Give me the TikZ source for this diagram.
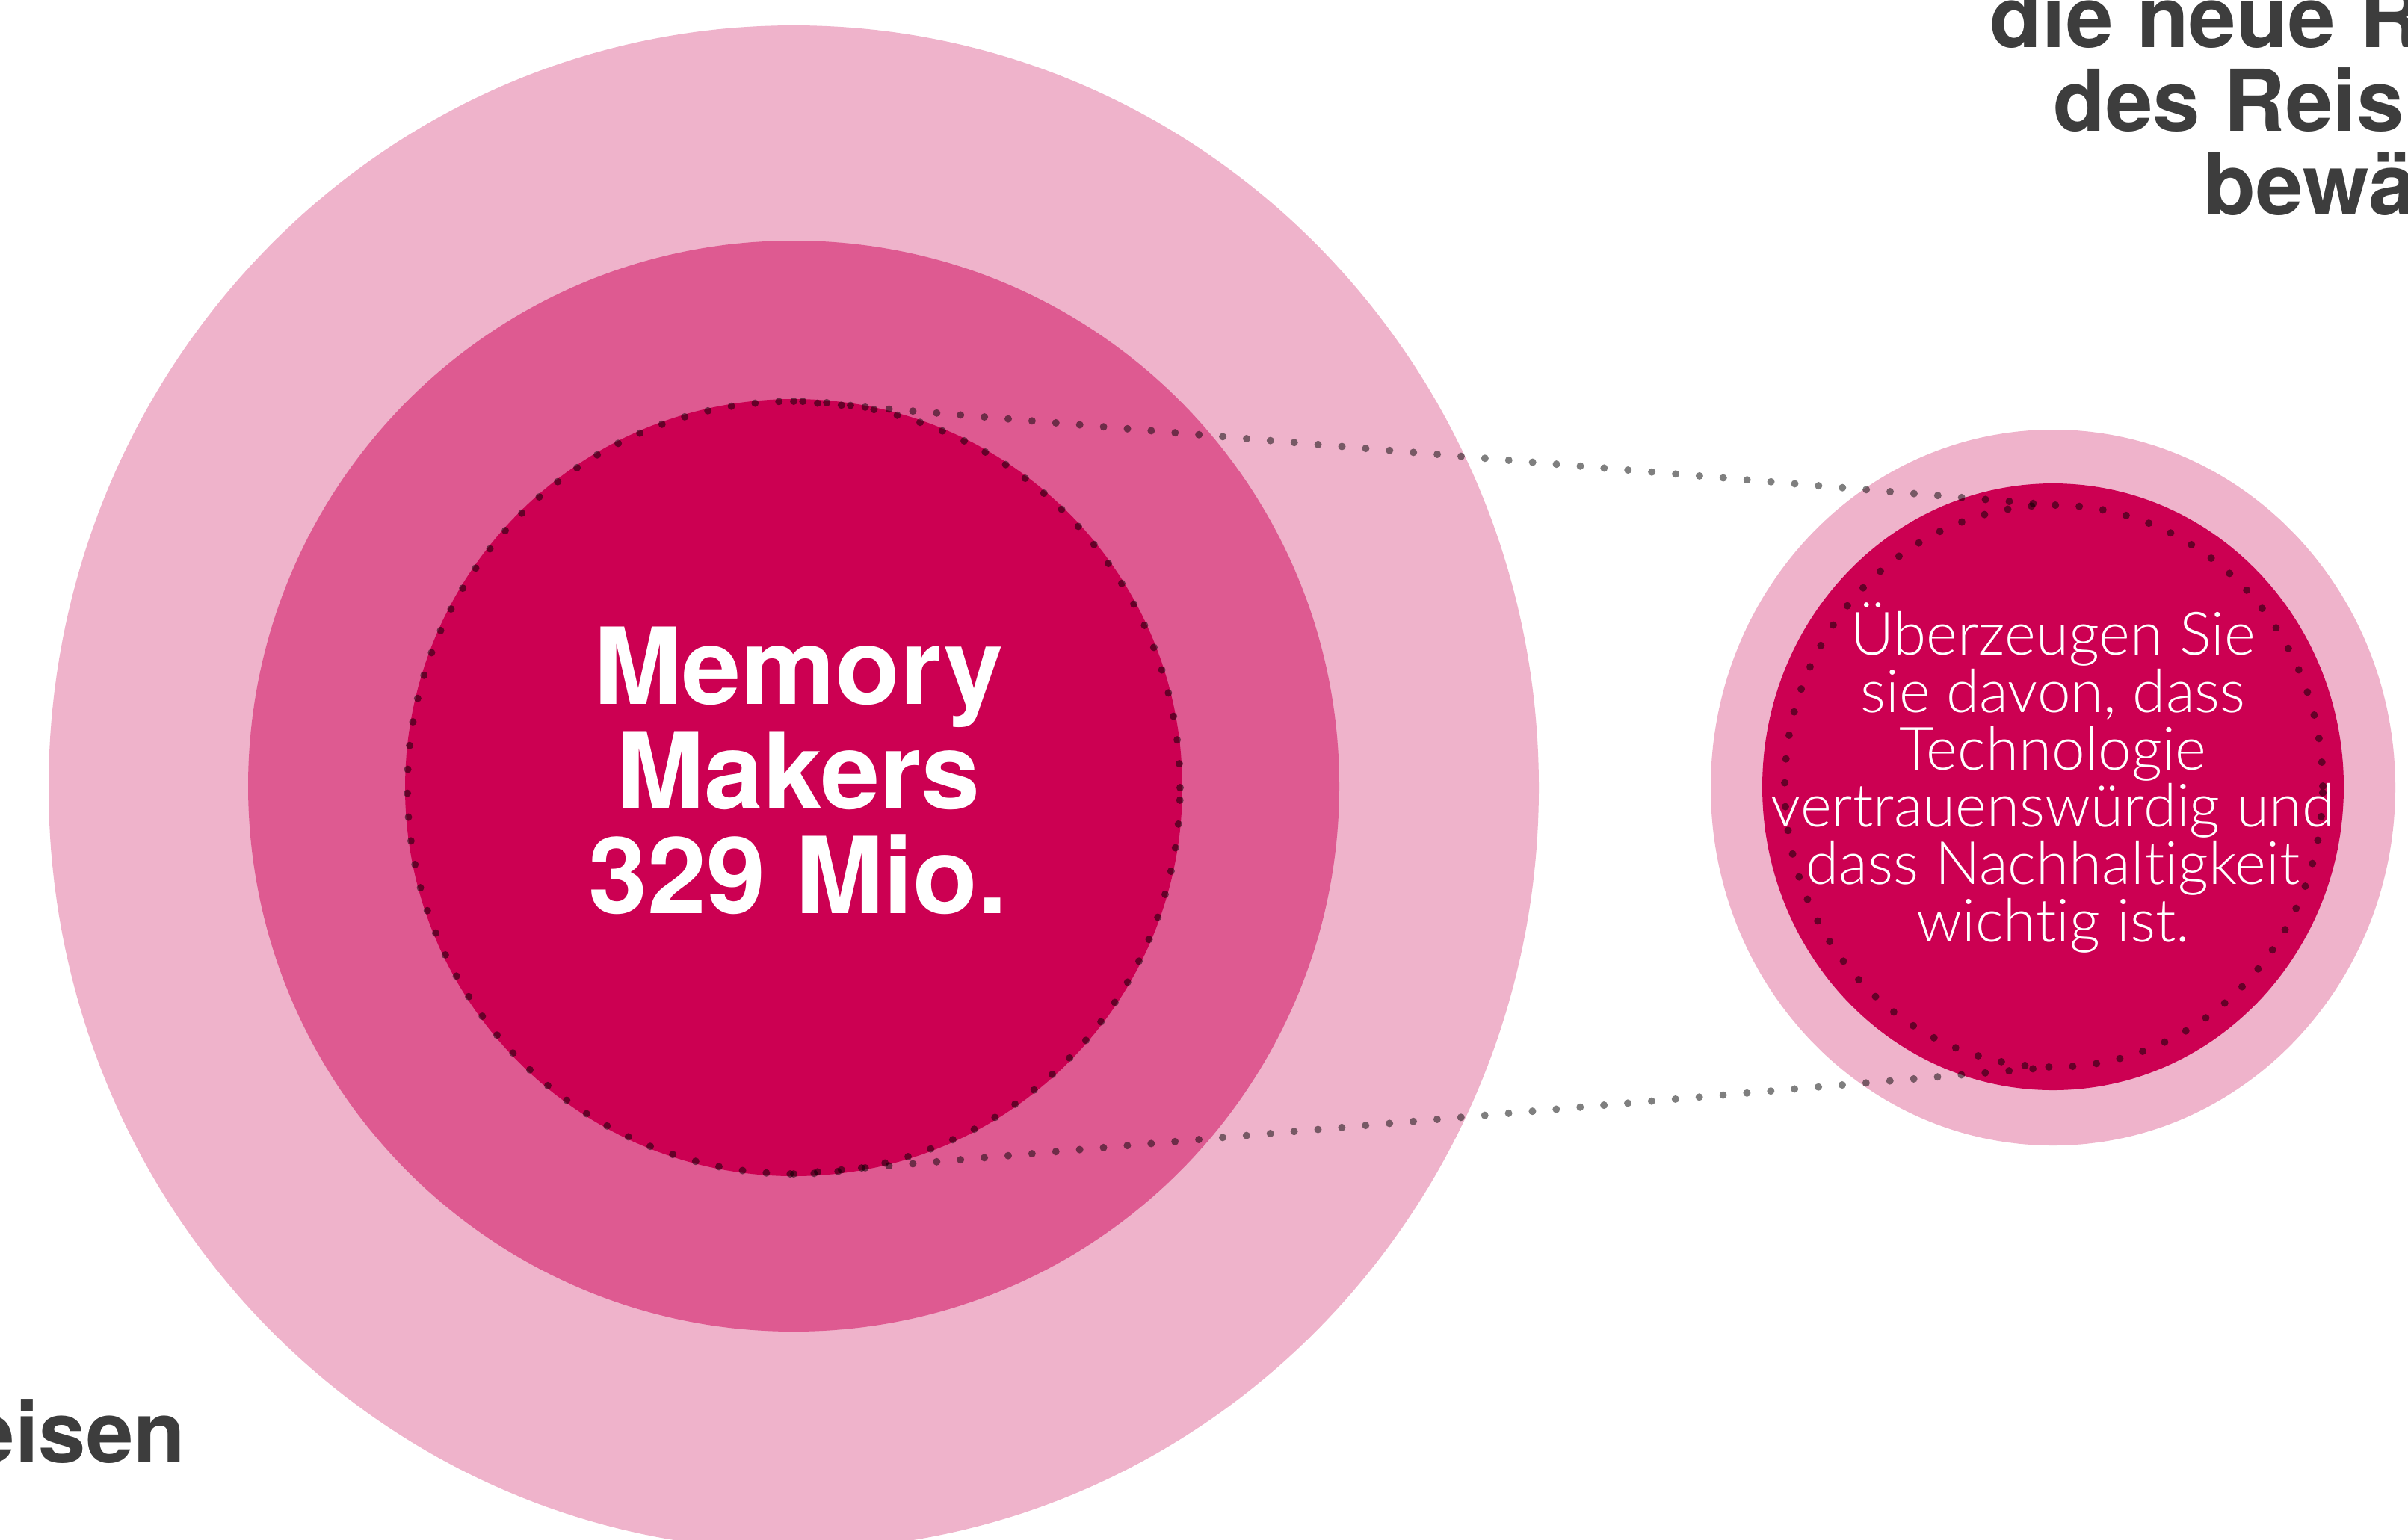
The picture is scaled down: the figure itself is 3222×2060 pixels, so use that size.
\documentclass[tikz,border=0pt]{standalone}
\usepackage{fontspec}
\setmainfont{TeX Gyre Heros}
\newfontfamily\lightfont{Lato Light}[Ligatures={NoCommon}]
\usetikzlibrary{shapes.geometric}
\definecolor{pinkA}{RGB}{239,179,203}
\definecolor{pinkB}{RGB}{222,90,145}
\definecolor{pinkC}{RGB}{204,0,82}
\definecolor{darktext}{RGB}{61,61,61}
\begin{document}
\begin{tikzpicture}[x=0.25pt,y=-0.25pt,
  disc/.style={circle,inner sep=0pt,outer sep=0pt},
  oval/.style={ellipse,inner sep=0pt,outer sep=0pt},
  dotline/.style={draw=black,draw opacity=0.5,line width=2.5pt,line cap=round,dash pattern=on 0pt off 8pt},
  headtext/.style={font=\bfseries\fontsize{28.5pt}{28pt}\selectfont,text=darktext,inner sep=0pt}
]
\useasboundingbox (0,0) rectangle (3222,2060);
\fill[white] (0,0) rectangle (3222,2060);
% big group
\node[oval,fill=pinkA,minimum width=498.5pt,minimum height=510pt] (bigA) at (1062,1054) {};
\node[disc,fill=pinkB,minimum size=365pt] (bigB) at (1062,1052) {};
\node[disc,fill=pinkC,minimum size=260pt] (bigC) at (1062,1054) {};
\node[disc,dotline,minimum size=258.5pt] (bigdots) at (1062,1054) {};
% small group
\node[oval,fill=pinkA,minimum width=229pt,minimum height=239.5pt] (smallA) at (2747,1054) {};
\node[oval,fill=pinkC,minimum width=194.5pt,minimum height=203pt] (smallC) at (2747,1053) {};
\node[oval,dotline,minimum width=180pt,minimum height=188pt] (smalldots) at (2748,1052) {};
% connectors
\draw[dotline] (bigdots.north) -- (smalldots.north);
\draw[dotline] (bigdots.south) -- (smalldots.south);
% texts
\node[font=\bfseries\fontsize{35.5pt}{35pt}\selectfont,text=white,align=center,inner sep=0pt] (mm) at (1068,1031) {Memory\\Makers\\329 Mio.};
\node[font=\lightfont\fontsize{20pt}{19.2pt}\selectfont,text=white,align=center,inner sep=0pt] (claim) at (2747,1041) {Überzeugen Sie\\sie davon, dass\\Technologie\\vertrauenswürdig und\\dass Nachhaltigkeit\\wichtig ist.};
\node[headtext,anchor=base west] (h1) at (2662,63) {die neue R};
\node[headtext,anchor=base west] (h2) at (2747,175) {des Reis};
\node[headtext,anchor=base west] (h3) at (2948,287) {bewä};
\node[headtext,anchor=base east] (h4) at (249,1957) {eisen};
\end{tikzpicture}
\end{document}
